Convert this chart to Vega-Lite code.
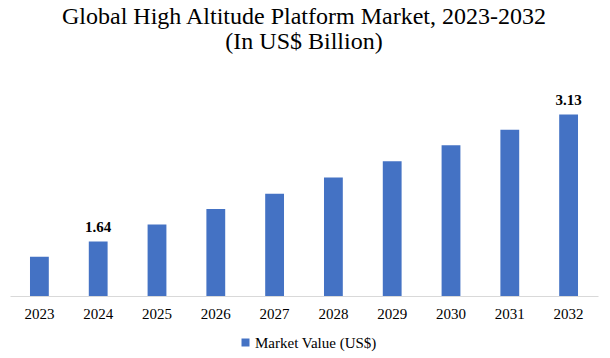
{
  "$schema": "https://vega.github.io/schema/vega-lite/v6.json",
  "autosize": "none",
  "width": 588,
  "height": 196,
  "padding": {"left": 10, "top": 100, "right": 12, "bottom": 62},
  "background": "white",
  "title": {
    "text": ["Global High Altitude Platform Market, 2023-2032", "(In US$ Billion)"],
    "font": "Liberation Serif",
    "fontSize": 24,
    "fontWeight": "normal",
    "color": "#000000",
    "anchor": "middle",
    "frame": "group",
    "lineHeight": 25,
    "offset": 39
  },
  "data": {
    "values": [
      {"year": "2023", "value": 1.46, "label": "", "series": "Market Value (US$)"},
      {"year": "2024", "value": 1.64, "label": "1.64", "series": "Market Value (US$)"},
      {"year": "2025", "value": 1.84, "label": "", "series": "Market Value (US$)"},
      {"year": "2026", "value": 2.02, "label": "", "series": "Market Value (US$)"},
      {"year": "2027", "value": 2.20, "label": "", "series": "Market Value (US$)"},
      {"year": "2028", "value": 2.39, "label": "", "series": "Market Value (US$)"},
      {"year": "2029", "value": 2.58, "label": "", "series": "Market Value (US$)"},
      {"year": "2030", "value": 2.77, "label": "", "series": "Market Value (US$)"},
      {"year": "2031", "value": 2.95, "label": "", "series": "Market Value (US$)"},
      {"year": "2032", "value": 3.13, "label": "3.13", "series": "Market Value (US$)"}
    ]
  },
  "encoding": {
    "x": {
      "field": "year", "type": "nominal",
      "scale": {"paddingInner": 0.68, "paddingOuter": 0.34},
      "axis": {
        "title": null, "labelAngle": 0, "ticks": false,
        "domainColor": "#d9d9d9", "domainWidth": 1,
        "labelFont": "Liberation Serif", "labelFontSize": 15,
        "labelColor": "#000000", "labelPadding": 10
      }
    },
    "y": {
      "field": "value", "type": "quantitative",
      "scale": {"domain": [1, 3.3], "zero": false, "nice": false},
      "axis": null
    }
  },
  "layer": [
    {
      "mark": {"type": "bar", "clip": true},
      "encoding": {
        "color": {
          "field": "series", "type": "nominal",
          "scale": {"range": ["#4472C4"]},
          "legend": {
            "title": null, "orient": "none", "legendX": 228, "legendY": 235,
            "symbolType": "square", "symbolSize": 64, "symbolStrokeWidth": 0,
            "labelFont": "Liberation Serif", "labelFontSize": 15,
            "labelColor": "#000000", "labelOffset": 2
          }
        }
      }
    },
    {
      "mark": {"type": "text", "dy": -6, "font": "Liberation Serif", "fontSize": 15, "fontWeight": "bold", "color": "#000000", "baseline": "bottom"},
      "encoding": {"text": {"field": "label"}}
    }
  ],
  "config": {"view": {"stroke": null}}
}
